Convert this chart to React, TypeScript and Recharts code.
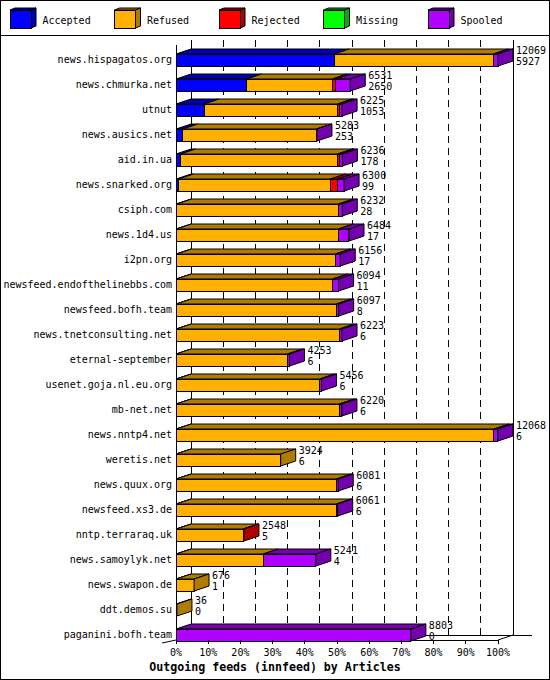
import React from 'react';
import { BarChart, Bar, XAxis, YAxis, CartesianGrid, ReferenceArea } from 'recharts';

// innfeed outgoing feeds, articles per peer
const feeds = [
  'news.hispagatos.org',
  'news.chmurka.net',
  'utnut',
  'news.ausics.net',
  'aid.in.ua',
  'news.snarked.org',
  'csiph.com',
  'news.1d4.us',
  'i2pn.org',
  'newsfeed.endofthelinebbs.com',
  'newsfeed.bofh.team',
  'news.tnetconsulting.net',
  'eternal-september',
  'usenet.goja.nl.eu.org',
  'mb-net.net',
  'news.nntp4.net',
  'weretis.net',
  'news.quux.org',
  'newsfeed.xs3.de',
  'nntp.terraraq.uk',
  'news.samoylyk.net',
  'news.swapon.de',
  'ddt.demos.su',
  'paganini.bofh.team',
];
const offered = [12069, 6531, 6225, 5283, 6236, 6300, 6232, 6484, 6156, 6094, 6097, 6223, 4253, 5456, 6220, 12068, 3924, 6081, 6061, 2548, 5241, 676, 36, 8803];
const accepted = [5927, 2650, 1053, 253, 178, 99, 28, 17, 17, 11, 8, 6, 6, 6, 6, 6, 6, 6, 6, 5, 4, 1, 0, 0];
const refused = [5965, 3206, 4998, 5010, 5874, 5690, 6055, 6067, 5951, 5858, 6000, 6117, 4172, 5375, 6114, 11912, 3918, 6000, 6005, 2513, 3262, 675, 36, 0];
const rejected = [0, 125, 62, 0, 60, 260, 0, 0, 0, 0, 0, 0, 0, 0, 0, 0, 0, 0, 0, 30, 0, 0, 0, 0];
const missing = [0, 0, 0, 0, 0, 0, 0, 0, 0, 0, 0, 0, 0, 0, 0, 0, 0, 0, 0, 0, 0, 0, 0, 0];
const spooled = [177, 550, 112, 20, 124, 251, 149, 400, 188, 225, 89, 100, 75, 75, 100, 150, 0, 75, 50, 0, 1975, 0, 0, 8803];
const pctTicks = [0, 10, 20, 30, 40, 50, 60, 70, 80, 90, 100];

const FONT = '"DejaVu Sans Mono", monospace';
const DX = 15;
const DY = 5;

const series = [
  { key: 'accepted', name: 'Accepted', color: '#0000ff', dark: '#0000b0' },
  { key: 'refused', name: 'Refused', color: '#ffb000', dark: '#b07c00' },
  { key: 'rejected', name: 'Rejected', color: '#ff0000', dark: '#b00000' },
  { key: 'missing', name: 'Missing', color: '#00ff00', dark: '#00b000' },
  { key: 'spooled', name: 'Spooled', color: '#b000ff', dark: '#7400b0' },
];

const data = feeds.map((name, i) => ({
  name,
  offered: offered[i],
  accepted: accepted[i],
  refused: refused[i],
  rejected: rejected[i],
  missing: missing[i],
  spooled: spooled[i],
}));

const maxTotal = Math.max(...offered);
const xTicks = pctTicks.map((p) => (p / 100) * maxTotal);

function makeShape(idx: number) {
  const s = series[idx];
  return (props: any) => {
    const { x, y, width, height, payload } = props;
    if (!width || width <= 0) return <g />;
    let last = -1;
    series.forEach((t, j) => {
      if (payload[t.key] > 0) last = j;
    });
    const r = x + width;
    const mid = y + height / 2;
    return (
      <g>
        <polygon
          points={`${x},${y} ${x + DX},${y - DY} ${r + DX},${y - DY} ${r},${y}`}
          fill={s.dark}
          stroke="#000"
        />
        <rect x={x} y={y} width={width} height={height} fill={s.color} stroke="#000" shapeRendering="crispEdges" />
        {last === idx && (
          <g>
            <polygon
              points={`${r},${y} ${r + DX},${y - DY} ${r + DX},${y + height - DY} ${r},${y + height}`}
              fill={s.dark}
              stroke="#000"
            />
            <text x={r + DX + 3} y={mid - 9.5} dominantBaseline="central" fontSize={10} fontFamily={FONT} fill="#000">
              {payload.offered}
            </text>
            <text x={r + DX + 3} y={mid + 1.5} dominantBaseline="central" fontSize={10} fontFamily={FONT} fill="#000">
              {payload.accepted}
            </text>
          </g>
        )}
      </g>
    );
  };
}

const XTick = (props: any) => {
  const { x, y, index } = props;
  return (
    <g>
      <line x1={x} y1={y - 7} x2={x} y2={y - 3} stroke="#000" shapeRendering="crispEdges" />
      <text x={x} y={y + 5} textAnchor="middle" dominantBaseline="central" fontSize={10} fontFamily={FONT} fill="#000">
        {pctTicks[index]}%
      </text>
    </g>
  );
};

const gridLine = (props: any) => {
  const { x1, y1, y2 } = props;
  const top = Math.min(y1, y2);
  const bot = Math.max(y1, y2);
  return (
    <line
      key={props.key ?? x1}
      x1={x1 + DX}
      y1={top - 7}
      x2={x1 + DX}
      y2={bot - 12}
      stroke="#000"
      strokeDasharray="7 5"
      shapeRendering="crispEdges"
    />
  );
};

// back wall, floor and front axis of the 3d frame
const Frame = (props: any) => {
  const { x, y, width, height } = props;
  const left = x;
  const right = x + width;
  const top = y;
  const bot = y + height;
  return (
    <g stroke="#000" fill="none" shapeRendering="crispEdges">
      <line x1={left + DX} y1={top - 7} x2={left + DX} y2={bot - 12} />
      <line x1={right + DX} y1={top - 7} x2={right + DX} y2={bot - 12} />
      <line x1={left} y1={top - 2} x2={left} y2={bot - 7} />
      <line x1={left} y1={bot - 7} x2={right} y2={bot - 7} />
      <line x1={left + DX} y1={bot - 12} x2={right + DX + 19} y2={bot - 12} />
      <line x1={right} y1={bot - 7} x2={right + DX} y2={bot - 12} shapeRendering="auto" />
      <line x1={left - 14} y1={bot - 4} x2={left} y2={bot - 7} shapeRendering="auto" />
    </g>
  );
};

function Legend3D() {
  return (
    <svg width={548} height={34} style={{ display: 'block' }}>
      {series.map((s, i) => {
        const x = 9 + i * 104.5;
        const y = 9;
        const w = 21;
        const h = 18;
        return (
          <g key={s.key}>
            <polygon points={`${x},${y} ${x + 5},${y - 2} ${x + w + 5},${y - 2} ${x + w},${y}`} fill={s.dark} stroke="#000" />
            <polygon
              points={`${x + w},${y} ${x + w + 5},${y - 2} ${x + w + 5},${y + h - 2} ${x + w},${y + h}`}
              fill={s.dark}
              stroke="#000"
            />
            <rect x={x} y={y} width={w} height={h} fill={s.color} stroke="#000" shapeRendering="crispEdges" />
            <text x={x + 32.5} y={19} dominantBaseline="central" fontSize={10} fontFamily={FONT} fill="#000">
              {s.name}
            </text>
          </g>
        );
      })}
    </svg>
  );
}

export default function App() {
  return (
    <div
      style={{
        position: 'absolute',
        left: 0,
        top: 0,
        width: 550,
        height: 680,
        boxSizing: 'border-box',
        border: '1px solid #000',
        background: '#fff',
      }}
    >
      <div style={{ height: 34, borderBottom: '1px solid #000' }}>
        <Legend3D />
      </div>
      <BarChart
        width={548}
        height={643}
        data={data}
        layout="vertical"
        margin={{ top: 11, right: 51, left: 0, bottom: 0 }}
        barSize={12}
      >
        <CartesianGrid horizontal={false} vertical={gridLine} />
        <ReferenceArea x1={0} x2={maxTotal} shape={Frame} />
        <XAxis
          type="number"
          domain={[0, maxTotal]}
          ticks={xTicks}
          interval={0}
          tick={<XTick />}
          tickSize={0}
          tickMargin={0}
          axisLine={false}
          tickLine={false}
          height={32}
        />
        <YAxis
          type="category"
          dataKey="name"
          width={175}
          interval={0}
          tickSize={0}
          tickMargin={4}
          axisLine={false}
          tickLine={false}
          tick={{ fill: '#000', fontSize: 10, fontFamily: FONT }}
        />
        {series.map((s, i) => (
          <Bar key={s.key} dataKey={s.key} name={s.name} stackId="a" fill={s.color} shape={makeShape(i)} isAnimationActive={false} />
        ))}
      </BarChart>
      <div
        style={{
          position: 'absolute',
          left: 0,
          top: 658,
          width: 548,
          lineHeight: '16px',
          textAlign: 'center',
          fontFamily: FONT,
          fontWeight: 'bold',
          fontSize: 11.6,
        }}
      >
        Outgoing feeds (innfeed) by Articles
      </div>
    </div>
  );
}
